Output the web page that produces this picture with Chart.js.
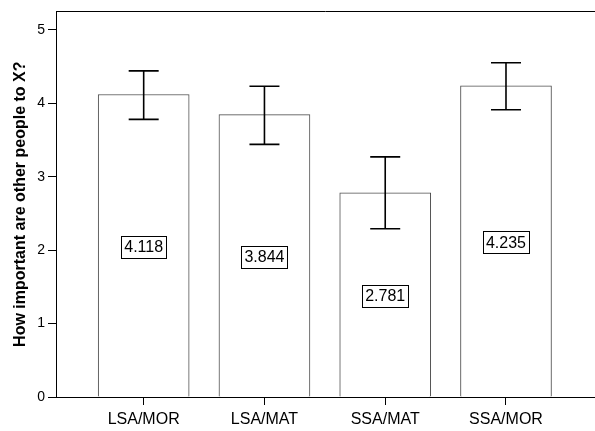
<!DOCTYPE html>
<html>
<head>
<meta charset="utf-8">
<script src="https://cdn.jsdelivr.net/npm/chart.js@4/dist/chart.umd.min.js"></script>
<style>
  html, body { margin: 0; padding: 0; background: #fff; }
  #wrap { width: 595px; height: 431px; }
</style>
</head>
<body>
<div id="wrap"><canvas id="chart" width="595" height="431"></canvas></div>
<script>
// datos
const categories = ['LSA/MOR', 'LSA/MAT', 'SSA/MAT', 'SSA/MOR'];
const means = [4.118, 3.844, 2.781, 4.235];
const ciLow = [3.78, 3.44, 2.29, 3.91];
const ciHigh = [4.44, 4.23, 3.27, 4.55];
const yTicks = [0, 1, 2, 3, 4, 5];
const yTitle = 'How important are other people to X?';

const FONT = "'Liberation Sans', Arial, sans-serif";

// barras de error + etiquetas con caja
const extras = {
  id: 'extras',
  afterDatasetsDraw(chart) {
    const ctx = chart.ctx;
    const x = chart.scales.x, y = chart.scales.y;
    const area = chart.chartArea;
    ctx.save();

    // linea superior del marco
    ctx.strokeStyle = '#000';
    ctx.lineWidth = 1;
    ctx.beginPath();
    const ty = Math.round(area.top) + 0.5;
    ctx.moveTo(area.left, ty);
    ctx.lineTo(area.right, ty);
    ctx.stroke();

    // etiquetas de valor
    ctx.font = '16px ' + FONT;
    ctx.textAlign = 'center';
    ctx.textBaseline = 'middle';
    means.forEach((v, i) => {
      const cx = x.getPixelForValue(i);
      const cy = y.getPixelForValue(v / 2) + 1;
      const txt = v.toFixed(3);
      const w = Math.round(ctx.measureText(txt).width + 6);
      const h = 22;
      const bx = Math.round(cx - w / 2) + 0.5, by = Math.round(cy - h / 2) + 0.5;
      ctx.fillStyle = '#fff';
      ctx.fillRect(bx, by, w, h);
      ctx.strokeStyle = '#000';
      ctx.lineWidth = 1;
      ctx.strokeRect(bx, by, w, h);
      ctx.fillStyle = '#000';
      ctx.fillText(txt, cx, cy + 1);
    });

    // barras de error
    ctx.strokeStyle = '#000';
    ctx.lineWidth = 1.6;
    means.forEach((v, i) => {
      const cx = x.getPixelForValue(i);
      const yt = y.getPixelForValue(ciHigh[i]);
      const yb = y.getPixelForValue(ciLow[i]);
      const cap = 15;
      ctx.beginPath();
      ctx.moveTo(cx, yt); ctx.lineTo(cx, yb);
      ctx.moveTo(cx - cap, yt); ctx.lineTo(cx + cap, yt);
      ctx.moveTo(cx - cap, yb); ctx.lineTo(cx + cap, yb);
      ctx.stroke();
    });
    ctx.restore();
  }
};

new Chart(document.getElementById('chart'), {
  type: 'bar',
  data: {
    datasets: [{
      data: means.map((v, i) => ({ x: i, y: v })),
      backgroundColor: '#fff',
      borderColor: '#4d4d4d',
      borderWidth: 1,
      barThickness: 91
    }]
  },
  options: {
    responsive: false,
    animation: false,
    events: [],
    layout: { padding: { top: 11, right: 0, left: 0, bottom: 0 } },
    plugins: { legend: { display: false }, tooltip: { enabled: false } },
    scales: {
      x: {
        type: 'linear',
        offset: false,
        min: -0.726,
        max: 3.737,
        afterBuildTicks: s => { s.ticks = categories.map((c, i) => ({ value: i })); },
        afterFit: s => { s.height = 34; },
        ticks: {
          callback: v => categories[v],
          font: { family: FONT, size: 16 },
          color: '#000',
          padding: 5,
          maxRotation: 0
        },
        grid: { offset: false, drawOnChartArea: false, drawTicks: true, tickLength: 8, color: '#000' },
        border: { display: true, color: '#000', width: 1 }
      },
      y: {
        min: 0,
        max: 5.25,
        afterBuildTicks: s => { s.ticks = yTicks.map(v => ({ value: v })); },
        afterFit: s => { s.width = 56; },
        ticks: {
          font: { family: FONT, size: 14 },
          color: '#000',
          padding: 3
        },
        grid: { drawOnChartArea: false, drawTicks: true, tickLength: 8, color: '#000' },
        border: { display: true, color: '#000', width: 1 },
        title: {
          display: true,
          text: yTitle,
          color: '#000',
          font: { family: FONT, size: 16, weight: 'bold' },
          padding: { top: 11, bottom: 0 }
        }
      }
    }
  },
  plugins: [extras]
});
</script>
</body>
</html>
